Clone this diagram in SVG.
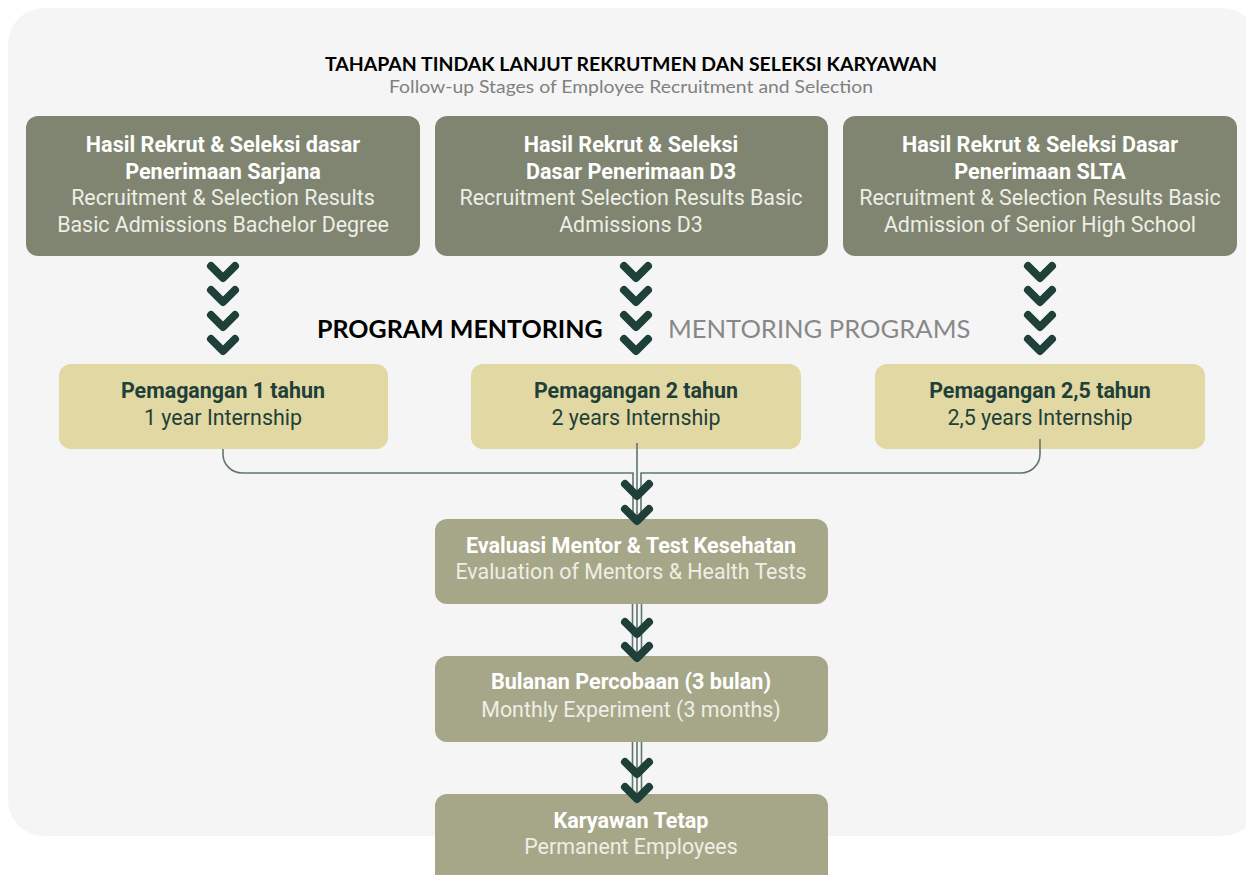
<svg xmlns="http://www.w3.org/2000/svg" xmlns:xlink="http://www.w3.org/1999/xlink" width="1246" height="875" viewBox="0 0 1246 875">
<defs>
<style>
.panel{fill:#f5f5f5}
.top{fill:#7f8570}
.yel{fill:#e1d8a3}
.btm{fill:#a6a788}
.tb{font-family:Roboto,"Liberation Sans",sans-serif;font-weight:700;font-size:21.6px;fill:#ffffff;text-anchor:middle}
.tr{font-family:Roboto,"Liberation Sans",sans-serif;font-weight:400;font-size:21.4px;fill:#eeeee6;text-anchor:middle}
.yb{font-family:Roboto,"Liberation Sans",sans-serif;font-weight:700;font-size:21.4px;fill:#1f4038;text-anchor:middle}
.yr{font-family:Roboto,"Liberation Sans",sans-serif;font-weight:400;font-size:21.4px;fill:#1f4038;text-anchor:middle}
.title{font-family:Lato,"Liberation Sans",sans-serif;font-weight:700;font-size:18px;fill:#000;text-anchor:middle}
.sub{font-family:Lato,"Liberation Sans",sans-serif;font-weight:400;font-size:18px;fill:#808080;text-anchor:middle}
.pm{font-family:Lato,"Liberation Sans",sans-serif;font-weight:700;font-size:25px;fill:#000}
.mp{font-family:Lato,"Liberation Sans",sans-serif;font-weight:400;font-size:25.6px;fill:#888888}
.chev{fill:none;stroke:#1e4038;stroke-width:8;stroke-linecap:round;stroke-linejoin:round}
.conn{fill:none;stroke:#5e776d;stroke-width:1.6}
</style>
<path id="chev" class="chev" d="M-12,0 L0,12 L12,0"/>
</defs>

<rect class="panel" x="8" y="8" width="1250" height="828" rx="36"/>

<g id="title">
<text class="title" x="631" y="71" textLength="612" lengthAdjust="spacingAndGlyphs">TAHAPAN TINDAK LANJUT REKRUTMEN  DAN SELEKSI KARYAWAN</text>
<text class="sub" x="631" y="93" textLength="484" lengthAdjust="spacingAndGlyphs">Follow-up Stages of Employee Recruitment and Selection</text>
</g>

<g id="node-sarjana">
<rect class="top" x="26" y="116" width="394" height="140" rx="12"/>
<text class="tb" x="223" y="152">Hasil Rekrut &amp; Seleksi dasar</text>
<text class="tb" x="223" y="179">Penerimaan Sarjana</text>
<text class="tr" x="223" y="205">Recruitment &amp; Selection Results</text>
<text class="tr" x="223" y="232">Basic Admissions Bachelor Degree</text>
</g>
<g id="node-d3">
<rect class="top" x="435" y="116" width="393" height="140" rx="12"/>
<text class="tb" x="631" y="152">Hasil Rekrut &amp; Seleksi</text>
<text class="tb" x="631" y="179">Dasar Penerimaan D3</text>
<text class="tr" x="631" y="205">Recruitment Selection Results Basic</text>
<text class="tr" x="631" y="232">Admissions D3</text>
</g>
<g id="node-slta">
<rect class="top" x="843" y="116" width="394" height="140" rx="12"/>
<text class="tb" x="1040" y="152">Hasil Rekrut &amp; Seleksi Dasar</text>
<text class="tb" x="1040" y="179">Penerimaan SLTA</text>
<text class="tr" x="1040" y="205">Recruitment &amp; Selection Results Basic</text>
<text class="tr" x="1040" y="232">Admission of Senior High School</text>
</g>

<g id="mentoring-label">
<text class="pm" x="317" y="338">PROGRAM MENTORING</text>
<text class="mp" x="668" y="338">MENTORING PROGRAMS</text>
</g>

<g id="node-1tahun">
<rect class="yel" x="59" y="364" width="329" height="85" rx="12"/>
<text class="yb" x="223" y="398">Pemagangan 1 tahun</text>
<text class="yr" x="223" y="425">1 year Internship</text>
</g>
<g id="node-2tahun">
<rect class="yel" x="471" y="364" width="330" height="85" rx="12"/>
<text class="yb" x="636" y="398">Pemagangan 2 tahun</text>
<text class="yr" x="636" y="425">2 years Internship</text>
</g>
<g id="node-25tahun">
<rect class="yel" x="875" y="364" width="330" height="85" rx="12"/>
<text class="yb" x="1040" y="398">Pemagangan 2,5 tahun</text>
<text class="yr" x="1040" y="425">2,5 years Internship</text>
</g>

<g id="node-evaluasi">
<rect class="btm" x="435" y="519" width="393" height="85" rx="12"/>
<text class="tb" x="631" y="553">Evaluasi Mentor &amp; Test Kesehatan</text>
<text class="tr" x="631" y="579">Evaluation of Mentors &amp; Health Tests</text>
</g>
<g id="node-bulanan">
<rect class="btm" x="435" y="656" width="393" height="86" rx="12"/>
<text class="tb" x="631" y="689">Bulanan Percobaan (3 bulan)</text>
<text class="tr" x="631" y="717">Monthly Experiment (3 months)</text>
</g>
<g id="node-karyawan">
<rect class="btm" x="435" y="794" width="393" height="100" rx="12"/>
<text class="tb" x="631" y="828">Karyawan Tetap</text>
<text class="tr" x="631" y="854">Permanent Employees</text>
</g>

<g id="connectors">
<path class="conn" d="M223,449 V454 A19,19 0 0 0 242,473 H633 V519"/>
<path class="conn" d="M637,443 V519"/>
<path class="conn" d="M1040,439 V454 A19,19 0 0 1 1021,473 H641 V519"/>
<path class="conn" d="M632.5,604 V657 M637,604 V657 M641.5,604 V657"/>
<path class="conn" d="M632.5,742 V794 M637,742 V794 M641.5,742 V794"/>
<use xlink:href="#chev" x="223" y="266"/>
<use xlink:href="#chev" x="223" y="290"/>
<use xlink:href="#chev" x="223" y="315"/>
<use xlink:href="#chev" x="223" y="339"/>
<use xlink:href="#chev" x="636" y="266"/>
<use xlink:href="#chev" x="636" y="290"/>
<use xlink:href="#chev" x="636" y="315"/>
<use xlink:href="#chev" x="636" y="339"/>
<use xlink:href="#chev" x="1040" y="266"/>
<use xlink:href="#chev" x="1040" y="290"/>
<use xlink:href="#chev" x="1040" y="315"/>
<use xlink:href="#chev" x="1040" y="339"/>
<use xlink:href="#chev" x="637" y="484"/>
<use xlink:href="#chev" x="637" y="509"/>
<use xlink:href="#chev" x="637" y="622"/>
<use xlink:href="#chev" x="637" y="646"/>
<use xlink:href="#chev" x="637" y="762"/>
<use xlink:href="#chev" x="637" y="787"/>
</g>
</svg>
